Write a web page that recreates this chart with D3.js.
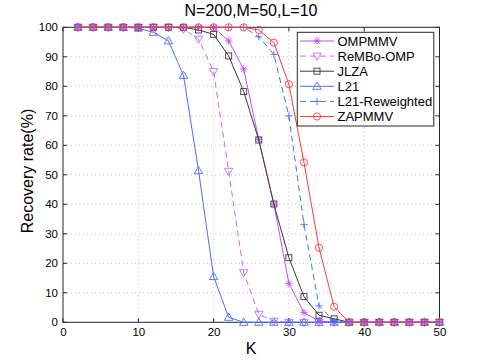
<!DOCTYPE html>
<html><head><meta charset="utf-8">
<script src="https://cdn.jsdelivr.net/npm/d3@7"></script>
<style>body{margin:0;background:#fff}svg{font-family:"Liberation Sans",Arial,sans-serif}</style>
</head><body><svg id="c" width="485" height="363"></svg>
<script>
const K = [2,4,6,8,10,12,14,16,18,20,22,24,26,28,30,32,34,36,38,40,42,44,46,48,50];
const OMPMMV =  [100,100,100,100,100,100,100,100,100,100,95.4,85.8,62,40.1,13.2,3.3,0.4,0,0,0,0,0,0,0,0];
const ReMBoOMP = [100,100,100,100,100,100,100,99.4,96,85,51.2,16.8,2.7,0.4,0,0,0,0,0,0,0,0,0,0,0];
const JLZA =    [100,100,100,100,100,100,100,100,99.1,97.6,90.3,78.2,61.8,40.1,21.9,8.7,2.4,1.2,0,0,0,0,0,0,0];
const L21 =     [100,100,100,100,99.7,98.3,95.4,83.7,51.4,15.5,1.7,0,0,0,0,0,0,0,0,0,0,0,0,0,0];
const L21R =    [100,100,100,100,100,100,100,100,100,100,100,100,96.8,90.8,70,33.2,5.6,0.4,0,0,0,0,0,0,0];
const ZAPMMV =  [100,100,100,100,100,100,100,100,100,100,100,100,99.1,94.8,80.7,54.2,25.3,5.3,0,0,0,0,0,0,0];
const xTicks = [0,10,20,30,40,50];
const yTicks = [0,10,20,30,40,50,60,70,80,90,100];
const seriesNames = ["OMPMMV","ReMBo-OMP","JLZA","L21","L21-Reweighted","ZAPMMV"];

const series = [
  {name:seriesNames[0], v:OMPMMV, color:"#bf4dff", dash:null, marker:"star"},
  {name:seriesNames[1], v:ReMBoOMP, color:"#c866ff", dash:"6,4", marker:"tridown"},
  {name:seriesNames[2], v:JLZA, color:"#3a3a3a", dash:null, marker:"square"},
  {name:seriesNames[3], v:L21, color:"#4d6bff", dash:null, marker:"triup"},
  {name:seriesNames[4], v:L21R, color:"#4d6bff", dash:"6,4", marker:"plus"},
  {name:seriesNames[5], v:ZAPMMV, color:"#ff3b3b", dash:null, marker:"circle"}
];

const svg = d3.select("#c");
const L=63, R=439.5, T=27.3, B=322.3;
const x = d3.scaleLinear().domain([0,50]).range([L,R]);
const y = d3.scaleLinear().domain([0,100]).range([B,T]);

// grid
const g = svg.append("g");
g.selectAll(".gx").data(xTicks.slice(1,-1)).enter().append("line")
  .attr("x1",d=>x(d)).attr("x2",d=>x(d)).attr("y1",T).attr("y2",B)
  .attr("stroke","#b0b0b0").attr("stroke-width",0.8).attr("stroke-dasharray","1,3");
g.selectAll(".gy").data(yTicks.slice(1,-1)).enter().append("line")
  .attr("y1",d=>y(d)).attr("y2",d=>y(d)).attr("x1",L).attr("x2",R)
  .attr("stroke","#b0b0b0").attr("stroke-width",0.8).attr("stroke-dasharray","1,3");

// axes with inward ticks
const ax = svg.append("g").attr("fill","none").attr("stroke","#262626").attr("stroke-width",1);
ax.append("rect").attr("x",L).attr("y",T).attr("width",R-L).attr("height",B-T);
const tl=4;
xTicks.forEach(t=>{
  ax.append("line").attr("x1",x(t)).attr("x2",x(t)).attr("y1",B).attr("y2",B-tl);
  ax.append("line").attr("x1",x(t)).attr("x2",x(t)).attr("y1",T).attr("y2",T+tl);
});
yTicks.forEach(t=>{
  ax.append("line").attr("y1",y(t)).attr("y2",y(t)).attr("x1",L).attr("x2",L+tl);
  ax.append("line").attr("y1",y(t)).attr("y2",y(t)).attr("x1",R).attr("x2",R-tl);
});
const xAxis = d3.axisBottom(x).tickValues(xTicks).tickSize(0).tickPadding(6);
const xa = svg.append("g").attr("transform",`translate(0,${B})`).call(xAxis);
xa.select(".domain").remove();
xa.selectAll("text").attr("font-size","11.5px").attr("fill","#000").attr("font-family","Liberation Sans, Arial, sans-serif");
const yAxis = d3.axisLeft(y).tickValues(yTicks).tickSize(0).tickPadding(5);
const ya = svg.append("g").attr("transform",`translate(${L},0)`).call(yAxis);
ya.select(".domain").remove();
ya.selectAll("text").attr("font-size","11.5px").attr("fill","#000").attr("font-family","Liberation Sans, Arial, sans-serif");

// markers
function drawMarker(sel, type, color, cx, cy){
  const s=3.6;
  if(type==="circle") sel.append("circle").attr("cx",cx).attr("cy",cy).attr("r",s).attr("fill","none").attr("stroke",color);
  else if(type==="square") sel.append("rect").attr("x",cx-3).attr("y",cy-3).attr("width",6).attr("height",6).attr("fill","none").attr("stroke",color);
  else if(type==="triup") sel.append("path").attr("d",`M${cx},${cy-4.2}L${cx+4.2},${cy+3}L${cx-4.2},${cy+3}Z`).attr("fill","none").attr("stroke",color);
  else if(type==="tridown") sel.append("path").attr("d",`M${cx},${cy+4.2}L${cx+4.2},${cy-3}L${cx-4.2},${cy-3}Z`).attr("fill","none").attr("stroke",color);
  else if(type==="plus") sel.append("path").attr("d",`M${cx-s},${cy}H${cx+s}M${cx},${cy-s}V${cy+s}`).attr("stroke",color);
  else if(type==="star") sel.append("path").attr("d",`M${cx-s},${cy}H${cx+s}M${cx},${cy-s}V${cy+s}M${cx-2.6},${cy-2.6}L${cx+2.6},${cy+2.6}M${cx-2.6},${cy+2.6}L${cx+2.6},${cy-2.6}`).attr("stroke",color);
}

const line = d3.line().x((d,i)=>x(K[i])).y(d=>y(d));
const plot = svg.append("g");
series.forEach(s=>{
  plot.append("path").datum(s.v).attr("d",line).attr("fill","none").attr("stroke",s.color)
    .attr("stroke-width",1).attr("stroke-dasharray",s.dash);
  const mg = plot.append("g").attr("stroke-width",0.9);
  s.v.forEach((v,i)=>drawMarker(mg,s.marker,s.color,x(K[i]),y(v)));
});

// legend
const lg = svg.append("g");
lg.append("rect").attr("x",297.3).attr("y",32.3).attr("width",136.5).attr("height",93.7)
  .attr("fill","#fff").attr("stroke","#262626").attr("stroke-width",1);
series.forEach((s,i)=>{
  const yy = 41 + i*15.1;
  lg.append("line").attr("x1",300).attr("x2",334).attr("y1",yy).attr("y2",yy)
    .attr("stroke",s.color).attr("stroke-width",1).attr("stroke-dasharray",s.dash?"6,4":null);
  const mg = lg.append("g").attr("stroke-width",0.9);
  drawMarker(mg,s.marker,s.color,317,yy);
  lg.append("text").attr("x",337.5).attr("y",yy+4.6).attr("font-size","13px").attr("fill","#000").text(s.name);
});

// titles
svg.append("text").attr("x",251).attr("y",16).attr("text-anchor","middle").attr("font-size","16px").attr("fill","#000").text("N=200,M=50,L=10");
svg.append("text").attr("x",251).attr("y",354).attr("text-anchor","middle").attr("font-size","16px").attr("fill","#000").text("K");
svg.append("text").attr("transform","translate(33,171) rotate(-90)").attr("text-anchor","middle").attr("font-size","16px").attr("fill","#000").text("Recovery rate(%)");
</script></body></html>
